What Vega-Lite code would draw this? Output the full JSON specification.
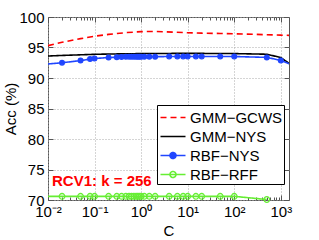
{
  "$schema": "https://vega.github.io/schema/vega-lite/v6.json",
  "width": 241,
  "height": 183,
  "autosize": "none",
  "padding": {"left": 48, "top": 17, "right": 30, "bottom": 40},
  "background": "white",
  "config": {
    "font": "Liberation Sans",
    "view": {"stroke": "#555", "strokeWidth": 1}
  },
  "datasets": {
    "acc": [
      {"series": "GMM-GCWS", "C": 0.01, "acc": 95.3},
      {"series": "GMM-GCWS", "C": 0.02, "acc": 95.85},
      {"series": "GMM-GCWS", "C": 0.05, "acc": 96.45},
      {"series": "GMM-GCWS", "C": 0.1, "acc": 96.85},
      {"series": "GMM-GCWS", "C": 0.2, "acc": 97.15},
      {"series": "GMM-GCWS", "C": 0.5, "acc": 97.45},
      {"series": "GMM-GCWS", "C": 1, "acc": 97.6},
      {"series": "GMM-GCWS", "C": 2, "acc": 97.63},
      {"series": "GMM-GCWS", "C": 5, "acc": 97.52},
      {"series": "GMM-GCWS", "C": 10, "acc": 97.42},
      {"series": "GMM-GCWS", "C": 20, "acc": 97.35},
      {"series": "GMM-GCWS", "C": 50, "acc": 97.3},
      {"series": "GMM-GCWS", "C": 100, "acc": 97.25},
      {"series": "GMM-GCWS", "C": 500, "acc": 97.1},
      {"series": "GMM-GCWS", "C": 1000, "acc": 97.03},
      {"series": "GMM-GCWS", "C": 2000, "acc": 96.95},
      {"series": "GMM-NYS", "C": 0.01, "acc": 93.6},
      {"series": "GMM-NYS", "C": 0.02, "acc": 93.7},
      {"series": "GMM-NYS", "C": 0.05, "acc": 93.8},
      {"series": "GMM-NYS", "C": 0.1, "acc": 93.88},
      {"series": "GMM-NYS", "C": 0.2, "acc": 93.93},
      {"series": "GMM-NYS", "C": 0.5, "acc": 93.97},
      {"series": "GMM-NYS", "C": 1, "acc": 94.0},
      {"series": "GMM-NYS", "C": 2, "acc": 94.02},
      {"series": "GMM-NYS", "C": 5, "acc": 94.03},
      {"series": "GMM-NYS", "C": 10, "acc": 94.03},
      {"series": "GMM-NYS", "C": 20, "acc": 94.03},
      {"series": "GMM-NYS", "C": 50, "acc": 94.02},
      {"series": "GMM-NYS", "C": 100, "acc": 94.0},
      {"series": "GMM-NYS", "C": 500, "acc": 93.9},
      {"series": "GMM-NYS", "C": 1000, "acc": 93.35},
      {"series": "GMM-NYS", "C": 2000, "acc": 91.75},
      {"series": "RBF-NYS", "C": 0.01, "acc": 92.3},
      {"series": "RBF-NYS", "C": 0.02, "acc": 92.5},
      {"series": "RBF-NYS", "C": 0.05, "acc": 92.85},
      {"series": "RBF-NYS", "C": 0.08, "acc": 93.1},
      {"series": "RBF-NYS", "C": 0.1, "acc": 93.2},
      {"series": "RBF-NYS", "C": 0.2, "acc": 93.35},
      {"series": "RBF-NYS", "C": 0.3, "acc": 93.4},
      {"series": "RBF-NYS", "C": 0.38, "acc": 93.45},
      {"series": "RBF-NYS", "C": 0.47, "acc": 93.47},
      {"series": "RBF-NYS", "C": 0.55, "acc": 93.48},
      {"series": "RBF-NYS", "C": 0.62, "acc": 93.5},
      {"series": "RBF-NYS", "C": 0.7, "acc": 93.5},
      {"series": "RBF-NYS", "C": 0.78, "acc": 93.5},
      {"series": "RBF-NYS", "C": 0.85, "acc": 93.5},
      {"series": "RBF-NYS", "C": 0.92, "acc": 93.5},
      {"series": "RBF-NYS", "C": 1, "acc": 93.5},
      {"series": "RBF-NYS", "C": 1.17, "acc": 93.5},
      {"series": "RBF-NYS", "C": 1.5, "acc": 93.5},
      {"series": "RBF-NYS", "C": 2, "acc": 93.5},
      {"series": "RBF-NYS", "C": 4, "acc": 93.52},
      {"series": "RBF-NYS", "C": 6, "acc": 93.52},
      {"series": "RBF-NYS", "C": 8, "acc": 93.52},
      {"series": "RBF-NYS", "C": 10, "acc": 93.52},
      {"series": "RBF-NYS", "C": 15, "acc": 93.52},
      {"series": "RBF-NYS", "C": 20, "acc": 93.52},
      {"series": "RBF-NYS", "C": 50, "acc": 93.52},
      {"series": "RBF-NYS", "C": 100, "acc": 93.52},
      {"series": "RBF-NYS", "C": 500, "acc": 93.38},
      {"series": "RBF-NYS", "C": 1000, "acc": 92.88},
      {"series": "RBF-NYS", "C": 2000, "acc": 91.95},
      {"series": "RBF-RFF", "C": 0.01, "acc": 70.6},
      {"series": "RBF-RFF", "C": 0.02, "acc": 70.6},
      {"series": "RBF-RFF", "C": 0.05, "acc": 70.6},
      {"series": "RBF-RFF", "C": 0.08, "acc": 70.6},
      {"series": "RBF-RFF", "C": 0.1, "acc": 70.6},
      {"series": "RBF-RFF", "C": 0.2, "acc": 70.6},
      {"series": "RBF-RFF", "C": 0.3, "acc": 70.6},
      {"series": "RBF-RFF", "C": 0.38, "acc": 70.6},
      {"series": "RBF-RFF", "C": 0.47, "acc": 70.6},
      {"series": "RBF-RFF", "C": 0.55, "acc": 70.6},
      {"series": "RBF-RFF", "C": 0.62, "acc": 70.6},
      {"series": "RBF-RFF", "C": 0.7, "acc": 70.6},
      {"series": "RBF-RFF", "C": 0.78, "acc": 70.6},
      {"series": "RBF-RFF", "C": 0.85, "acc": 70.6},
      {"series": "RBF-RFF", "C": 0.92, "acc": 70.6},
      {"series": "RBF-RFF", "C": 1, "acc": 70.6},
      {"series": "RBF-RFF", "C": 1.17, "acc": 70.6},
      {"series": "RBF-RFF", "C": 1.5, "acc": 70.6},
      {"series": "RBF-RFF", "C": 2, "acc": 70.6},
      {"series": "RBF-RFF", "C": 4, "acc": 70.6},
      {"series": "RBF-RFF", "C": 6, "acc": 70.6},
      {"series": "RBF-RFF", "C": 8, "acc": 70.6},
      {"series": "RBF-RFF", "C": 10, "acc": 70.6},
      {"series": "RBF-RFF", "C": 15, "acc": 70.6},
      {"series": "RBF-RFF", "C": 20, "acc": 70.6},
      {"series": "RBF-RFF", "C": 50, "acc": 70.6},
      {"series": "RBF-RFF", "C": 100, "acc": 70.6},
      {"series": "RBF-RFF", "C": 500, "acc": 70.08}
    ],
    "note": [
      {"label": "RCV1: k = 256", "C": 0.0122, "acc": 73.1}
    ]
  },
  "layer": [
    {
      "data": {"name": "acc"},
      "mark": {"type": "line", "clip": true, "strokeWidth": 1.6},
      "encoding": {
        "x": {
          "field": "C", "type": "quantitative",
          "scale": {"type": "log", "domain": [0.01, 1500], "nice": false},
          "axis": {
            "orient": "bottom",
            "title": "C",
            "titleFontSize": 15, "titleFontWeight": "normal", "titleColor": "black", "titlePadding": 2,
            "values": [0.01,0.02,0.03,0.04,0.05,0.06,0.07,0.08,0.09,0.1,0.2,0.3,0.4,0.5,0.6,0.7,0.8,0.9,1,2,3,4,5,6,7,8,9,10,20,30,40,50,60,70,80,90,100,200,300,400,500,600,700,800,900,1000],
            "labelExpr": "abs(log(datum.value)/LN10 - round(log(datum.value)/LN10)) > 0.001 ? '' : (round(log(datum.value)/LN10) == -2 ? '10⁻²' : round(log(datum.value)/LN10) == -1 ? '10⁻¹' : round(log(datum.value)/LN10) == 0 ? '10⁰' : round(log(datum.value)/LN10) == 1 ? '10¹' : round(log(datum.value)/LN10) == 2 ? '10²' : '10³')",
            "labelFontSize": 15, "labelColor": "black", "labelOverlap": false, "labelFlush": false,
            "labelPadding": 9,
            "domain": false,
            "ticks": true,
            "tickSize": {"condition": {"test": "abs(log(datum.value)/LN10 - round(log(datum.value)/LN10)) < 0.001", "value": -5}, "value": -3},
            "tickColor": "#555",
            "grid": true,
            "gridDash": [1, 2],
            "gridColor": {"condition": {"test": "abs(log(datum.value)/LN10 - round(log(datum.value)/LN10)) < 0.001", "value": "#aaa"}, "value": "transparent"}
          }
        },
        "y": {
          "field": "acc", "type": "quantitative",
          "scale": {"domain": [70, 100], "nice": false},
          "axis": {
            "orient": "left",
            "title": "Acc (%)",
            "titleFontSize": 15, "titleFontWeight": "normal", "titleColor": "black", "titlePadding": 0,
            "values": [70, 75, 80, 85, 90, 95, 100],
            "labelFontSize": 15, "labelColor": "black", "labelPadding": 9,
            "domain": false,
            "tickSize": -5, "tickColor": "#555",
            "grid": true, "gridDash": [1, 2], "gridColor": "#aaa"
          }
        },
        "color": {
          "field": "series", "type": "nominal",
          "scale": {
            "domain": ["GMM-GCWS", "GMM-NYS", "RBF-NYS", "RBF-RFF"],
            "range": ["#ff0000", "#000000", "#2046ff", "#66ee33"]
          },
          "legend": {
            "orient": "none",
            "legendX": 109,
            "legendY": 88,
            "title": null,
            "labelFontSize": 15,
            "labelColor": "black",
            "labelExpr": "replace(datum.label, '-', '−')",
            "labelOffset": 6,
            "symbolSize": 400,
            "symbolOffset": 3.5,
            "symbolStrokeWidth": 1.6,
            "strokeColor": "black",
            "fillColor": "white",
            "padding": 1.5,
            "rowPadding": 0,
            "encode": {
              "symbols": {
                "update": {
                  "shape": {"signal": "datum.value === 'RBF-NYS' || datum.value === 'RBF-RFF' ? 'M-1.25,0H1.25M-0.3,0A0.3,0.3,0,1,1,0.3,0A0.3,0.3,0,1,1,-0.3,0' : 'M-1.25,0H1.25'"},
                  "fill": {"signal": "datum.value === 'RBF-NYS' ? '#2046ff' : 'transparent'"},
                  "strokeDash": {"signal": "datum.value === 'GMM-GCWS' ? [5, 3.5] : [1, 0]"}
                }
              }
            }
          }
        },
        "strokeDash": {
          "field": "series", "type": "nominal",
          "scale": {
            "domain": ["GMM-GCWS", "GMM-NYS", "RBF-NYS", "RBF-RFF"],
            "range": [[6, 4], [1, 0], [1, 0], [1, 0]]
          },
          "legend": null
        }
      }
    },
    {
      "data": {"name": "acc"},
      "transform": [
        {"filter": "(datum.series === 'RBF-NYS' || datum.series === 'RBF-RFF') && datum.C > 0.01 && datum.C < 1500"}
      ],
      "mark": {"type": "point", "shape": "circle", "filled": false, "strokeWidth": 1.3, "opacity": 1},
      "encoding": {
        "x": {
          "field": "C", "type": "quantitative",
          "axis": {
            "orient": "top", "title": null, "labels": false, "domain": false, "grid": false,
            "values": [0.01,0.02,0.03,0.04,0.05,0.06,0.07,0.08,0.09,0.1,0.2,0.3,0.4,0.5,0.6,0.7,0.8,0.9,1,2,3,4,5,6,7,8,9,10,20,30,40,50,60,70,80,90,100,200,300,400,500,600,700,800,900,1000],
            "tickSize": {"condition": {"test": "abs(log(datum.value)/LN10 - round(log(datum.value)/LN10)) < 0.001", "value": -5}, "value": -3},
            "tickColor": "#555"
          }
        },
        "y": {
          "field": "acc", "type": "quantitative",
          "axis": {
            "orient": "right", "title": null, "labels": false, "domain": false, "grid": false,
            "values": [70, 75, 80, 85, 90, 95, 100],
            "tickSize": -5, "tickColor": "#555"
          }
        },
        "color": {"field": "series", "type": "nominal", "legend": null},
        "fill": {
          "field": "series", "type": "nominal",
          "scale": {"domain": ["RBF-NYS", "RBF-RFF"], "range": ["#2046ff", "transparent"]},
          "legend": null
        },
        "size": {
          "field": "series", "type": "nominal",
          "scale": {"domain": ["RBF-NYS", "RBF-RFF"], "range": [22, 32]},
          "legend": null
        }
      }
    },
    {
      "data": {"name": "note"},
      "mark": {"type": "text", "align": "left", "baseline": "middle", "fontSize": 15, "fontWeight": "bold", "color": "#ff0000"},
      "encoding": {
        "x": {"field": "C", "type": "quantitative", "axis": null},
        "y": {"field": "acc", "type": "quantitative", "axis": null},
        "text": {"field": "label"}
      }
    }
  ],
  "resolve": {"axis": {"x": "independent", "y": "independent"}}
}
